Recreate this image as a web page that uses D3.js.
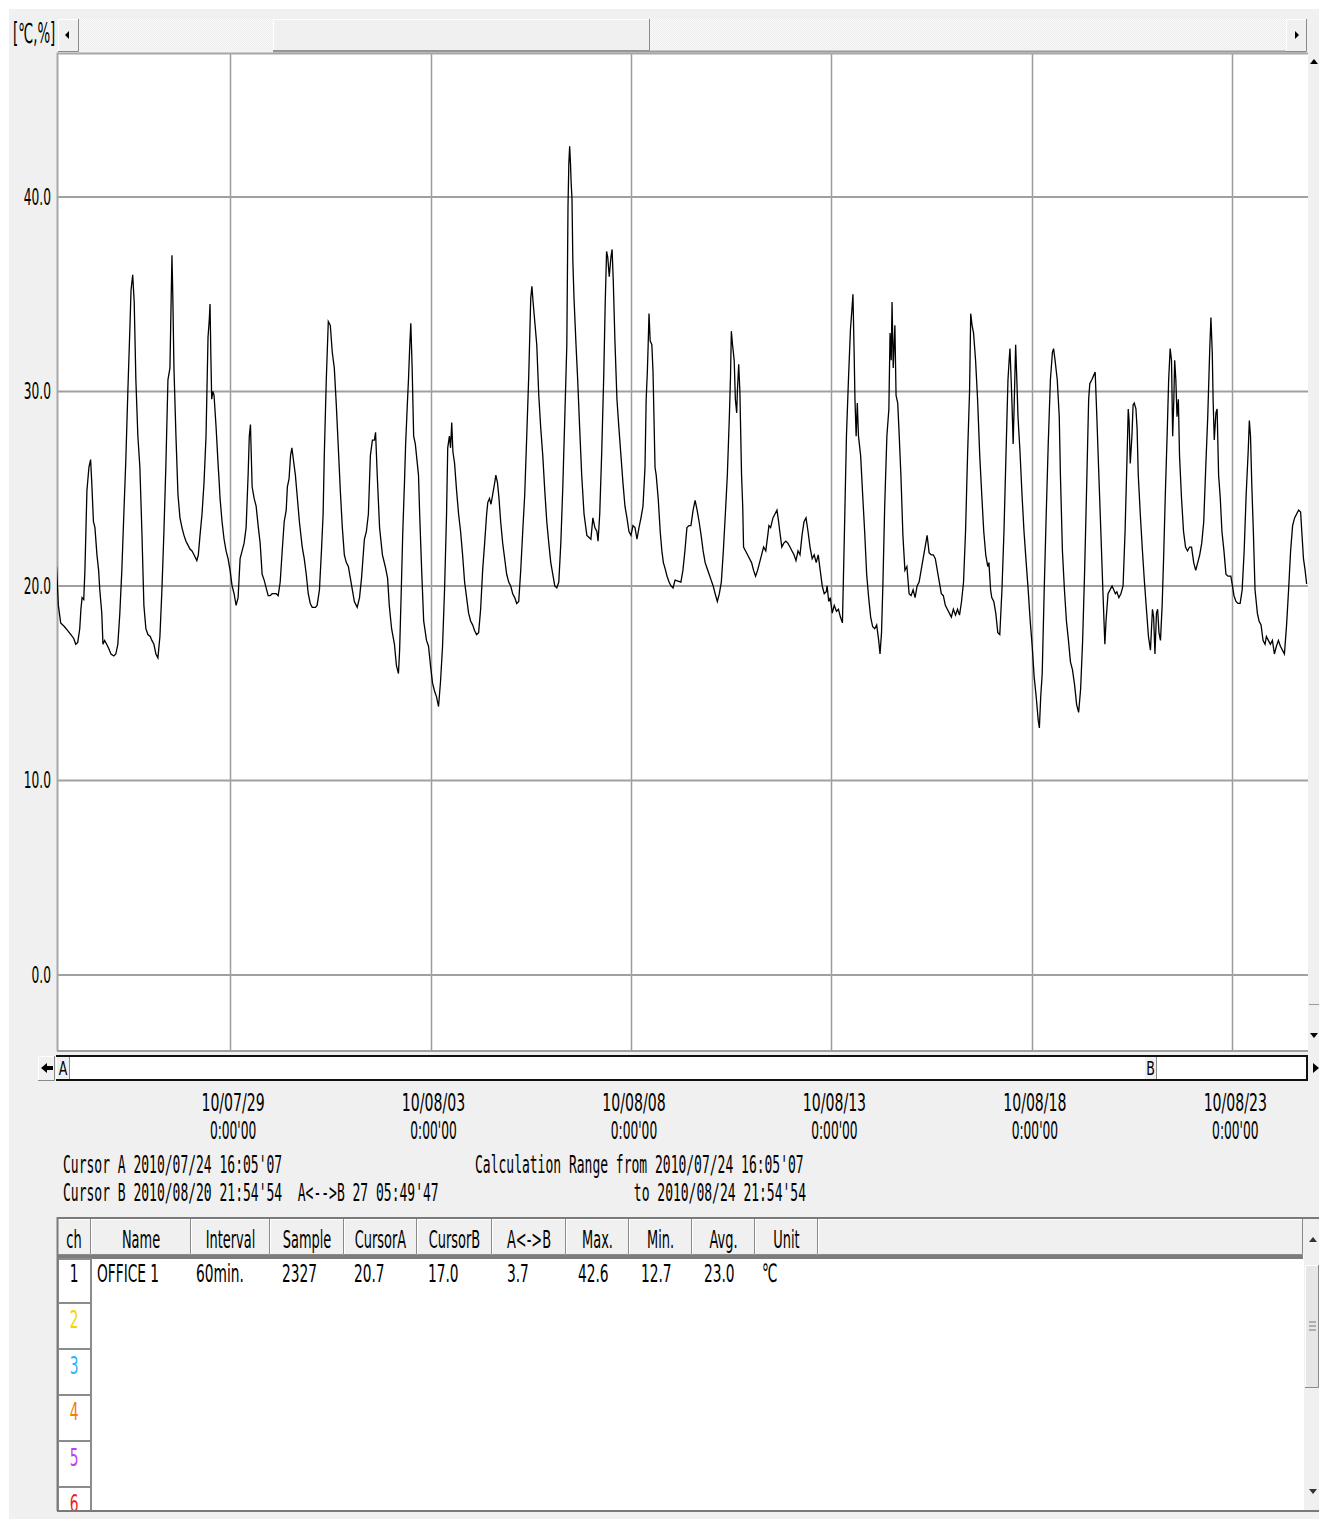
<!DOCTYPE html>
<html>
<head>
<meta charset="utf-8">
<script src="https://cdn.jsdelivr.net/npm/d3@7"></script>
<style>
  html, body { margin: 0; padding: 0; background: #ffffff; }
  svg { display: block; }
  text { white-space: pre; }
</style>
</head>
<body>
<script>
// ---- Logged data: channel 1 (OFFICE 1), hours since 2010/07/24 00:00, temperature in ℃ ----
const readings = [
[16.1,21.0],[17.2,19.0],[18.6,18.1],[20.9,17.9],[22.8,17.7],[24.7,17.5],[26.4,17.3],[27.6,17.0],[28.8,17.1],[30.0,17.8],[30.7,18.8],[31.4,19.4],[32.4,19.3],[33.1,20.8],[34.3,24.9],[35.5,26.1],[36.5,26.5],[37.2,25.3],[38.2,23.3],[39.1,23.0],[40.3,21.6],[41.3,20.8],[42.0,19.8],[43.2,18.6],[43.9,17.0],[44.9,17.2],[46.1,17.0],[47.3,16.8],[48.7,16.5],[50.4,16.4],[51.6,16.5],[52.8,17.0],[54.0,18.6],[55.2,20.8],[56.4,23.7],[57.6,26.5],[58.8,30.0],[60.0,33.2],[60.7,35.2],[61.7,36.0],[62.6,34.6],[63.6,30.6],[64.8,27.7],[66.0,26.1],[67.2,22.8],[68.4,19.0],[69.6,17.8],[70.8,17.5],[72.2,17.4],[73.2,17.2],[74.4,17.0],[75.6,16.5],[76.8,16.3],[78.0,17.4],[79.2,19.8],[80.4,22.8],[81.6,26.3],[82.8,30.6],[84.0,31.2],[85.2,37.0],[85.7,35.0],[86.4,31.2],[87.6,27.7],[88.8,24.7],[90.0,23.5],[91.2,23.0],[92.4,22.6],[93.6,22.3],[94.8,22.1],[96.0,21.9],[97.2,21.8],[98.4,21.6],[100.1,21.3],[101.0,21.6],[102.0,22.6],[103.2,23.7],[104.4,25.3],[105.6,27.7],[106.8,32.8],[107.5,33.6],[108.0,34.5],[108.5,31.8],[109.0,29.6],[109.7,30.0],[110.4,29.8],[111.6,28.2],[112.8,26.3],[113.5,25.3],[114.0,24.5],[115.2,23.3],[116.4,22.4],[117.6,21.8],[118.8,21.4],[120.0,20.8],[121.2,20.0],[122.4,19.6],[123.6,19.0],[124.8,19.4],[126.0,21.4],[127.2,21.8],[128.4,22.2],[129.6,23.0],[130.8,25.7],[131.5,27.7],[132.2,28.3],[133.2,25.1],[134.4,24.5],[135.6,24.1],[136.8,23.1],[138.0,22.2],[139.2,20.6],[140.4,20.3],[141.6,19.9],[142.8,19.5],[144.0,19.5],[145.2,19.6],[146.4,19.6],[147.6,19.6],[148.8,19.5],[150.0,20.2],[151.2,21.8],[152.4,23.3],[153.6,23.9],[154.3,25.1],[155.3,25.5],[156.2,26.7],[157.0,27.1],[157.9,26.5],[159.1,25.7],[160.1,24.7],[161.5,23.3],[163.2,22.0],[164.4,21.4],[165.6,20.6],[166.8,19.6],[168.0,19.1],[169.2,18.9],[171.1,18.9],[172.1,19.0],[173.5,19.8],[174.7,21.8],[175.7,23.7],[176.4,26.7],[177.6,30.6],[178.8,33.6],[180.0,33.4],[181.2,32.0],[182.4,31.2],[183.6,29.3],[184.8,27.1],[186.0,24.9],[187.2,23.0],[188.4,21.6],[189.6,21.2],[190.8,21.0],[192.0,20.4],[193.2,19.8],[194.4,19.2],[196.1,18.9],[197.5,19.4],[198.7,20.4],[200.4,22.4],[201.6,22.8],[202.8,23.7],[204.0,26.7],[205.2,27.5],[206.4,27.5],[207.1,27.9],[208.1,25.7],[209.5,23.0],[211.2,21.6],[212.9,21.0],[214.3,20.4],[215.3,19.0],[216.7,17.8],[218.4,17.0],[219.6,15.9],[220.8,15.5],[221.5,16.7],[222.5,19.8],[223.4,22.8],[224.4,25.3],[225.1,27.3],[226.1,29.3],[226.8,30.6],[227.5,32.2],[228.2,33.5],[229.0,31.2],[229.9,27.7],[230.9,27.3],[231.6,26.7],[232.8,25.7],[233.5,23.7],[234.7,20.8],[235.9,18.2],[237.6,17.2],[238.8,16.9],[240.0,15.9],[241.2,15.0],[242.4,14.6],[243.6,14.3],[244.8,13.8],[246.0,15.1],[247.2,16.9],[248.4,19.8],[249.6,23.7],[250.3,27.1],[251.3,27.7],[252.0,27.1],[252.7,28.4],[253.4,26.9],[254.4,26.3],[255.6,24.9],[256.8,23.7],[258.0,22.8],[259.2,21.6],[260.4,20.2],[261.6,19.4],[262.8,18.6],[264.0,18.2],[265.2,18.0],[266.4,17.7],[267.6,17.5],[268.8,17.6],[270.0,18.8],[271.2,20.8],[272.4,22.2],[273.6,23.7],[274.3,24.3],[275.3,24.5],[276.2,24.2],[277.2,24.7],[278.4,25.3],[279.1,25.7],[280.1,25.3],[281.0,24.5],[282.0,23.3],[283.2,22.2],[284.4,21.4],[285.6,20.6],[286.8,20.2],[288.0,20.0],[289.2,19.6],[290.4,19.4],[291.6,19.1],[292.8,19.2],[294.0,20.8],[295.2,22.8],[296.4,24.7],[297.6,27.7],[298.8,30.8],[300.0,34.8],[300.7,35.4],[301.4,34.6],[302.4,33.6],[303.6,32.4],[304.8,29.8],[306.0,28.1],[307.2,26.7],[308.4,24.9],[309.6,23.3],[310.8,22.2],[312.0,21.2],[313.2,20.6],[314.4,20.0],[315.6,19.9],[316.8,20.2],[318.0,22.2],[319.2,25.1],[320.4,28.7],[321.6,32.4],[322.3,39.5],[322.8,41.7],[323.3,42.6],[323.8,41.7],[324.2,40.7],[324.7,39.9],[325.2,36.7],[325.9,34.8],[327.1,32.4],[328.1,30.6],[329.3,28.1],[330.5,25.7],[331.9,23.7],[333.6,22.6],[334.8,22.5],[336.0,22.4],[337.2,23.5],[338.4,23.0],[339.6,22.8],[340.3,22.3],[341.3,23.7],[342.5,26.9],[343.7,30.8],[344.6,34.6],[345.4,37.2],[346.1,36.9],[347.0,35.9],[348.0,36.9],[348.7,37.3],[349.4,35.7],[350.4,32.6],[351.6,29.6],[352.8,28.1],[354.0,26.7],[355.2,25.3],[356.4,24.1],[357.6,23.5],[358.8,22.8],[360.0,22.6],[361.2,23.1],[362.4,23.0],[363.6,22.4],[364.8,23.0],[366.0,23.5],[367.2,24.1],[368.4,26.1],[369.1,29.6],[369.8,31.0],[370.3,32.4],[370.8,34.0],[371.5,32.6],[372.5,32.4],[373.2,31.0],[374.4,26.1],[375.1,25.7],[376.3,24.5],[377.5,22.8],[378.5,21.8],[379.4,21.2],[380.4,20.9],[381.6,20.5],[382.8,20.2],[384.0,20.0],[385.2,19.9],[386.4,20.3],
[389.9,20.2],[391.1,20.8],[392.3,21.8],[393.5,23.0],[394.7,23.1],[395.9,23.1],[397.2,23.9],[398.4,24.4],[399.6,23.9],[400.8,23.3],[402.0,22.6],[403.2,21.8],[404.4,21.2],[405.6,20.9],[406.8,20.6],[408.0,20.3],[409.2,20.0],[410.4,19.6],[411.7,19.2],[412.9,19.6],[414.1,20.2],[415.3,21.8],[416.5,23.7],[417.7,25.7],[418.9,28.7],[419.6,30.8],[420.1,33.1],[420.8,32.4],[421.8,31.6],[422.5,29.6],[423.3,28.9],[423.7,30.0],[424.5,31.4],[425.2,30.0],[426.2,25.7],[426.9,24.1],[427.4,22.0],[428.6,21.8],[429.8,21.6],[431.0,21.4],[432.2,21.2],[433.4,20.8],[434.6,20.5],[435.8,20.8],[437.0,21.2],[438.2,21.6],[439.4,22.0],[440.7,21.8],[441.9,22.6],[442.6,23.1],[443.6,23.0],[445.0,23.5],[446.2,23.7],[447.4,23.9],[448.4,23.3],[449.1,22.8],[450.3,22.0],[451.5,22.2],[452.7,22.3],[453.9,22.2],[455.2,22.0],[456.4,21.8],[457.6,21.6],[458.8,21.3],[460.0,21.8],[461.2,21.6],[462.4,22.6],[463.6,23.3],[464.8,23.5],[466.0,22.8],[467.2,22.0],[468.5,21.4],[469.7,21.6],[470.9,21.2],[472.1,21.6],[473.3,20.8],[474.5,20.0],[475.7,19.6],[476.9,19.7],[477.4,20.0],[478.4,19.2],[479.3,19.4],[480.5,18.6],[481.7,19.0],[483.0,18.7],[484.2,18.8],[485.4,18.4],[486.6,18.1],[487.8,22.8],[489.0,27.7],[490.2,30.6],[491.4,33.2],[492.1,34.0],[492.9,35.0],[493.6,32.0],[494.1,29.6],[494.8,27.7],[495.5,29.4],[496.2,27.7],[497.5,26.7],[498.7,24.7],[499.9,22.8],[501.1,20.6],[502.3,19.4],[503.5,18.4],[504.7,17.9],[505.9,17.8],[507.1,18.0],[508.3,17.2],[509.1,16.5],[510.0,17.6],[510.8,20.0],[511.9,24.1],[513.2,27.7],[514.4,29.1],[515.1,33.0],[515.8,31.6],[516.3,34.6],[517.0,31.2],[518.0,33.4],[518.7,29.8],[519.7,29.4],[520.4,28.1],[521.6,25.7],[522.8,22.6],[524.0,20.8],[525.2,21.0],[526.5,19.6],[527.7,19.5],[528.9,19.8],[530.1,19.4],[531.3,20.0],[532.5,20.2],[533.7,20.8],[534.9,21.4],[536.1,22.0],[537.3,22.6],[538.5,21.7],[539.8,21.6],[541.0,21.6],[542.2,21.4],[543.4,20.8],[544.6,20.2],[545.8,19.6],[547.0,19.5],[548.2,19.0],[549.4,18.8],[550.6,18.6],[551.8,18.4],[553.0,18.8],[554.3,18.5],[555.5,18.8],[556.7,18.5],[557.9,19.2],[559.1,20.2],[560.3,22.8],[561.5,26.7],[562.7,30.0],[563.4,34.0],[564.2,33.4],[565.1,33.0],[566.3,31.6],[567.5,29.6],[568.8,26.7],[570.0,24.7],[571.2,22.8],[572.4,21.6],[573.6,21.0],[574.3,21.2],[575.3,19.8],[576.0,19.4],[577.2,19.2],[578.4,18.6],[579.6,17.6],[580.8,17.5],[582.1,19.8],[583.3,22.8],[584.5,26.7],[585.7,30.6],[586.4,31.6],[586.9,32.2],[587.6,30.6],[588.1,29.4],[588.8,27.3],[589.5,29.6],[590.3,32.4],[591.0,30.6],[591.7,28.7],[592.9,26.9],[594.1,24.7],[595.3,22.8],[596.6,21.2],[597.8,19.8],[599.0,18.2],[600.2,16.9],[601.4,15.3],[602.6,14.3],[603.8,13.1],[604.5,12.7],[605.3,14.3],[606.2,15.5],[607.4,19.8],[608.6,23.7],[609.8,27.3],[611.1,30.6],[612.3,32.0],[613.0,32.2],[613.9,31.6],[615.2,30.6],[616.4,28.7],[617.1,25.7],[618.3,21.8],[619.5,19.8],[620.7,18.2],[621.9,17.2],[623.1,16.1],[624.3,15.7],[625.6,14.9],[626.8,13.9],[628.0,13.5],[629.2,14.7],[630.4,17.2],[631.6,20.8],[632.8,25.1],[634.0,29.6],[634.7,30.4],[635.9,30.6],[636.9,30.8],[637.9,31.0],[638.9,28.7],[640.1,25.7],[641.3,22.8],[642.5,19.8],[643.7,17.0],[644.4,18.2],[645.6,19.6],[646.8,19.8],[648.0,20.0],[649.0,19.8],[650.0,19.6],[650.9,19.7],[652.1,19.4],[653.3,19.6],[654.6,20.0],[655.8,22.8],[657.0,26.7],[657.7,29.1],[658.2,28.5],[658.9,26.3],[659.9,27.7],[660.6,29.3],[661.3,29.4],[662.3,29.1],[663.0,28.1],[663.7,25.7],[664.9,23.7],[666.2,21.8],[667.4,20.2],[668.6,18.8],[669.8,17.4],[671.0,16.7],[672.2,18.8],[672.9,18.4],[673.7,16.5],[674.6,18.6],[675.3,18.8],[676.1,17.6],[677.0,17.2],[678.0,19.0],[679.0,21.8],[679.9,24.7],[681.1,28.1],[681.9,30.6],[682.8,32.2],[683.6,31.6],[684.3,27.7],[685.0,29.6],[685.5,31.6],[686.2,30.6],[686.9,28.7],[687.7,29.6],[688.4,26.7],[689.6,24.5],[690.8,22.8],[692.0,22.0],[693.2,21.8],[694.4,22.0],[695.6,22.0],[696.9,21.2],[698.1,20.8],[699.3,21.2],[700.5,21.6],[701.7,22.2],[702.9,23.3],[704.1,26.1],[705.3,28.7],[706.5,32.2],[707.2,33.8],[708.0,32.0],[708.5,29.6],[709.2,27.5],[710.2,28.9],[710.9,29.1],[711.8,25.7],[712.8,24.5],[713.8,22.8],[715.0,21.8],[716.2,20.6],[717.4,20.5],[719.1,20.5],[720.1,20.0],[721.0,19.5],[722.2,19.2],[723.4,19.1],[724.7,19.1],[725.9,19.8],[727.1,21.8],[728.3,24.7],[729.5,26.9],[730.2,28.5],[730.9,27.7],[731.7,25.1],[732.6,22.8],[733.6,19.8],[735.0,18.6],[736.0,18.2],[737.2,18.0],[738.4,17.2],[739.6,17.0],[740.4,17.4],[741.6,17.2],[742.8,17.0],[744.0,17.2],[745.2,16.5],[746.4,16.9],[747.6,17.2],[748.8,16.9],[750.0,16.7],[751.2,16.5],[752.5,18.0],[753.7,19.8],[754.9,21.8],[756.1,23.1],[757.3,23.5],[758.5,23.7],[759.7,23.9],[760.9,23.8],[761.6,22.8],[762.6,21.4],[763.6,20.8],[764.5,20.1]
];

// ---- Axis ticks ----
const yTicks = [0, 10, 20, 30, 40];
const xTickDates = ["2010/07/29", "2010/08/03", "2010/08/08", "2010/08/13", "2010/08/18", "2010/08/23"];

// ---- Cursor / range read-outs ----
const cursorA = "2010/07/24 16:05'07";
const cursorB = "2010/08/20 21:54'54";
const spanAB = "27 05:49'47";
const rangeFrom = "2010/07/24 16:05'07";
const rangeTo = "2010/08/24 21:54'54";

// ---- Channel table ----
const columnNames = ["ch", "Name", "Interval", "Sample", "CursorA", "CursorB", "A<->B", "Max.", "Min.", "Avg.", "Unit"];
const channel1Row = ["1", "OFFICE 1", "60min.", "2327", "20.7", "17.0", "3.7", "42.6", "12.7", "23.0", "℃"];
const channelNumbers = ["1", "2", "3", "4", "5", "6"];
const channelColors = ["#000000", "#f4d400", "#29b6f6", "#f57c00", "#c23cf2", "#f01c1c"];

// ---- Layout ----
const W = 1319, H = 1519;
const plot = { left: 57, right: 1308, top: 53, bottom: 1051 };
const colEdges = [57, 91, 191, 270, 344, 417, 492, 566, 629, 692, 755, 818];
const colTextOffset = [null, 6, 5, 12, 10, 11, 15, 12, 12, 12, 7];
const tableTop = 1218, headerBottom = 1255, tableBottom = 1511, tableRight = 1305, rowH = 46;

const NARROW = "'Liberation Sans Narrow','DejaVu Sans Condensed','Arial Narrow',sans-serif";
const MONO = "'DejaVu Sans Mono','Liberation Mono',monospace";

const svg = d3.select("body").append("svg").attr("width", W).attr("height", H);

function txt(parent, x, y, s, o = {}) {
  return parent.append("text")
    .attr("transform", `translate(${x},${y}) scale(${o.sx || 1},${o.sy || 1.4})`)
    .attr("font-family", o.family || NARROW)
    .attr("font-size", o.size || 18)
    .attr("text-anchor", o.anchor || "start")
    .attr("fill", o.fill || "#000")
    .text(s);
}

// raised 3D box like a Windows control
function bevel(parent, x, y, w, h, fill = "#f0f0f0") {
  const g = parent.append("g");
  g.append("rect").attr("x", x).attr("y", y).attr("width", w).attr("height", h).attr("fill", fill);
  g.append("path").attr("d", `M${x + 0.5},${y + h - 1}V${y + 0.5}H${x + w - 1}`).attr("stroke", "#ffffff").attr("fill", "none");
  g.append("path").attr("d", `M${x},${y + h - 0.5}H${x + w - 0.5}V${y}`).attr("stroke", "#8a8a8a").attr("fill", "none");
  return g;
}

// window background
svg.append("rect").attr("width", W).attr("height", H).attr("fill", "#ffffff");
svg.append("rect").attr("x", 9).attr("y", 9).attr("width", W - 9).attr("height", H - 9).attr("fill", "#f0f0f0");

const defs = svg.append("defs");
const pat = defs.append("pattern").attr("id", "hatch").attr("width", 2).attr("height", 2).attr("patternUnits", "userSpaceOnUse");
pat.append("rect").attr("width", 2).attr("height", 2).attr("fill", "#fafafa");
pat.append("rect").attr("width", 1).attr("height", 1).attr("fill", "#ececec");
pat.append("rect").attr("x", 1).attr("y", 1).attr("width", 1).attr("height", 1).attr("fill", "#ececec");
defs.append("clipPath").attr("id", "plotClip").append("rect")
  .attr("x", plot.left).attr("y", plot.top).attr("width", plot.right - plot.left).attr("height", plot.bottom - plot.top);

// ---- unit label and top scroll bar ----
txt(svg, 13, 43, "[℃,%]", { size: 19, sx: 0.78, sy: 1.45 });
svg.append("rect").attr("x", 58).attr("y", 19).attr("width", 1248).attr("height", 33).attr("fill", "url(#hatch)");
bevel(svg, 273, 19, 377, 32, "#f0f0f0");
svg.append("line").attr("x1", 273).attr("x2", 1306).attr("y1", 51.5).attr("y2", 51.5).attr("stroke", "#9a9a9a").attr("stroke-width", 2);
bevel(svg, 58, 19, 21, 33);
bevel(svg, 1286, 19, 21, 33);
svg.append("path").attr("d", "M65,35 l4,-4 v8 z").attr("fill", "#000");
svg.append("path").attr("d", "M1299,35 l-4,-4 v8 z").attr("fill", "#000");

// ---- scales ----
const parseStamp = d3.timeParse("%Y/%m/%d %H:%M'%S");
const parseDay = d3.timeParse("%Y/%m/%d");
const t0 = new Date(2010, 6, 24, 0, 0, 0);
const x = d3.scaleTime().domain([parseStamp(rangeFrom), parseStamp(rangeTo)]).range([56.5, 1309]);
const y = d3.scaleLinear().domain([-3.91, 47.40]).range([plot.bottom, plot.top]);

// ---- plot area ----
svg.append("rect").attr("x", plot.left).attr("y", plot.top).attr("width", plot.right - plot.left).attr("height", plot.bottom - plot.top).attr("fill", "#ffffff");

const grid = svg.append("g");
grid.selectAll(".vg").data(xTickDates).join("line")
  .attr("x1", d => Math.round(x(parseDay(d))) + 0.5).attr("x2", d => Math.round(x(parseDay(d))) + 0.5)
  .attr("y1", plot.top).attr("y2", plot.bottom)
  .attr("stroke", "#9c9c9c").attr("stroke-width", 1.5);
grid.selectAll(".hg").data(yTicks).join("line")
  .attr("x1", plot.left).attr("x2", plot.right)
  .attr("y1", d => y(d)).attr("y2", d => y(d))
  .attr("stroke", "#a0a0a0").attr("stroke-width", 2);

// plot frame
svg.append("path").attr("d", `M${plot.left + 0.5},${plot.bottom}V${plot.top + 0.5}H${plot.right}`)
  .attr("stroke", "#a8a8a8").attr("stroke-width", 2).attr("fill", "none");
svg.append("line").attr("x1", plot.left).attr("x2", plot.right).attr("y1", plot.bottom).attr("y2", plot.bottom)
  .attr("stroke", "#a0a0a0").attr("stroke-width", 2);

// temperature trace
const line = d3.line()
  .x(d => x(new Date(t0.getTime() + d[0] * 3600e3)))
  .y(d => y(d[1]));
svg.append("path").datum(readings)
  .attr("clip-path", "url(#plotClip)")
  .attr("d", line)
  .attr("fill", "none").attr("stroke", "#000").attr("stroke-width", 1.3).attr("stroke-linejoin", "miter");

// y tick labels
svg.selectAll(".yl").data(yTicks).join(d => d.append("g"))
  .each(function (d) { txt(d3.select(this), 51, y(d) + 8, d3.format(".1f")(d), { size: 16, sx: 0.85, sy: 1.45, anchor: "end" }); });

// right scroll bar beside the plot
svg.append("rect").attr("x", 1309).attr("y", plot.top).attr("width", 10).attr("height", plot.bottom - plot.top).attr("fill", "#f0f0f0");
svg.append("path").attr("d", "M1314,59 l4,5 h-8 z").attr("fill", "#000");
svg.append("path").attr("d", "M1314,1038 l4,-5 h-8 z").attr("fill", "#000");
svg.append("line").attr("x1", 1309).attr("x2", 1319).attr("y1", 1004.5).attr("y2", 1004.5).attr("stroke", "#9a9a9a");

// ---- cursor bar ----
const bar = svg.append("g");
bevel(bar, 38, 1056, 17, 25);
bar.append("path").attr("d", "M41,1068 l6,-5 v3 h6 v4 h-6 v3 z").attr("fill", "#000");
bevel(bar, 56, 1056, 14, 25);
txt(bar, 63, 1075, "A", { size: 14, sy: 1.35, anchor: "middle" });
bar.append("rect").attr("x", 70).attr("y", 1056).attr("width", 1237).attr("height", 24).attr("fill", "#ffffff");
bevel(bar, 1144, 1056, 13, 25);
txt(bar, 1150.5, 1075, "B", { size: 14, sy: 1.35, anchor: "middle" });
bar.append("line").attr("x1", 56).attr("x2", 1307).attr("y1", 1056).attr("y2", 1056).attr("stroke", "#111").attr("stroke-width", 2);
bar.append("line").attr("x1", 56).attr("x2", 1307).attr("y1", 1080).attr("y2", 1080).attr("stroke", "#111").attr("stroke-width", 2);
bar.append("line").attr("x1", 1307).attr("x2", 1307).attr("y1", 1055).attr("y2", 1081).attr("stroke", "#111").attr("stroke-width", 2);
bar.append("path").attr("d", "M1319,1068 l-6,-5 v10 z").attr("fill", "#000");

// x tick labels (date over time of day)
const fmtDay = d3.timeFormat("%y/%m/%d");
const fmtClock = d3.timeFormat("%-H:%M'%S");
xTickDates.forEach(s => {
  const d = parseDay(s), px = x(d) + 3;
  txt(svg, px, 1111, fmtDay(d), { size: 16, sx: 0.98, sy: 1.5, anchor: "middle" });
  txt(svg, px, 1139, fmtClock(d), { size: 16, sx: 0.85, sy: 1.5, anchor: "middle" });
});

// cursor read-outs
const mono = { family: MONO, size: 13, sx: 1, sy: 1.85 };
txt(svg, 63, 1173, `Cursor A ${cursorA}`, mono);
txt(svg, 63, 1201, `Cursor B ${cursorB}  A<-->B ${spanAB}`, mono);
txt(svg, 475, 1173, `Calculation Range from ${rangeFrom}`, mono);
txt(svg, 806, 1201, `to ${rangeTo}`, { ...mono, anchor: "end" });

// ---- channel table ----
const tbl = svg.append("g");
tbl.append("rect").attr("x", colEdges[0]).attr("y", tableTop).attr("width", tableRight - colEdges[0]).attr("height", tableBottom - tableTop).attr("fill", "#ffffff");
tbl.append("rect").attr("x", colEdges[0]).attr("y", tableTop).attr("width", tableRight - colEdges[0]).attr("height", headerBottom - tableTop).attr("fill", "#f0f0f0");
columnNames.forEach((name, i) => {
  const x0 = colEdges[i], x1 = colEdges[i + 1];
  bevel(tbl, x0, tableTop + 1, x1 - x0, headerBottom - tableTop - 1);
  txt(tbl, (x0 + x1) / 2, 1248, name, { size: 18, sx: 0.8, sy: 1.4, anchor: "middle" });
});
bevel(tbl, colEdges[colEdges.length - 1], tableTop + 1, tableRight - colEdges[colEdges.length - 1] - 2, headerBottom - tableTop - 1);
tbl.append("rect").attr("x", colEdges[0]).attr("y", headerBottom).attr("width", tableRight - colEdges[0] - 2).attr("height", 4).attr("fill", "#7c7c7c");

// ch column cells
channelNumbers.forEach((n, i) => {
  const top = headerBottom + 4 + i * rowH - (i > 0 ? 2 : 0);
  const h = i === 0 ? rowH - 2 : rowH;
  tbl.append("rect").attr("x", colEdges[0] + 1).attr("y", top).attr("width", colEdges[1] - colEdges[0] - 1).attr("height", Math.min(h, tableBottom - top))
    .attr("fill", "#ffffff").attr("stroke", "#8c8c8c").attr("stroke-width", 2);
  txt(tbl, (colEdges[0] + colEdges[1]) / 2, 1282 + i * rowH, n, { size: 18, sx: 0.85, sy: 1.4, anchor: "middle", fill: channelColors[i] });
});
// channel 1 values
channel1Row.forEach((v, i) => {
  if (i === 0) return;
  txt(tbl, colEdges[i] + colTextOffset[i], 1282, v, { size: 18, sx: 0.85, sy: 1.4 });
});

// table frame, and vertical scroll bar
tbl.append("rect").attr("x", colEdges[0]).attr("y", tableBottom - 1).attr("width", 1319 - colEdges[0]).attr("height", 8).attr("fill", "#f0f0f0");
tbl.append("path").attr("d", `M${colEdges[0] + 0.5},${tableBottom}V${tableTop}H1319`).attr("stroke", "#7a7a7a").attr("stroke-width", 2).attr("fill", "none");
tbl.append("line").attr("x1", colEdges[0]).attr("x2", 1319).attr("y1", tableBottom).attr("y2", tableBottom).attr("stroke", "#7a7a7a").attr("stroke-width", 2);
tbl.append("rect").attr("x", 1304).attr("y", tableTop + 1).attr("width", 15).attr("height", tableBottom - tableTop - 2).attr("fill", "#f0f0f0");
bevel(tbl, 1305, 1265, 14, 123, "#e6e6e6");
tbl.append("path").attr("d", "M1313,1237 l4,5 h-8 z").attr("fill", "#333");
tbl.append("path").attr("d", "M1313,1494 l4,-5 h-8 z").attr("fill", "#333");
[1322, 1326, 1330].forEach(yy => tbl.append("line").attr("x1", 1309).attr("x2", 1316).attr("y1", yy).attr("y2", yy).attr("stroke", "#777"));
</script>
</body>
</html>
